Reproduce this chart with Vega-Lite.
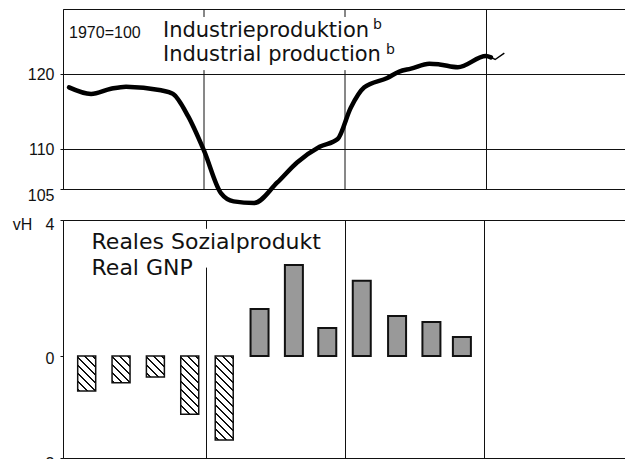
{
  "$schema": "https://vega.github.io/schema/vega-lite/v6.json",
  "background": "white",
  "padding": {"left": 5, "top": 8, "right": 0, "bottom": 0},
  "spacing": 31,
  "bounds": "flush",
  "config": {
    "view": {"stroke": "#111", "strokeWidth": 1},
    "axis": {
      "labelFont": "Liberation Sans", "labelFontSize": 16, "labelColor": "#111",
      "domainColor": "#111", "domainWidth": 1, "tickColor": "#111", "tickSize": 3, "tickWidth": 1,
      "gridColor": "#111", "gridOpacity": 1, "gridWidth": 1, "labelPadding": 6
    }
  },
  "datasets": {
    "production": [
      {"year": 1974.043, "value": 118.2},
      {"year": 1974.199, "value": 117.3},
      {"year": 1974.34, "value": 118.0},
      {"year": 1974.447, "value": 118.3},
      {"year": 1974.695, "value": 117.8},
      {"year": 1974.78, "value": 117.3},
      {"year": 1974.887, "value": 114.3},
      {"year": 1975.0, "value": 109.8},
      {"year": 1975.12, "value": 104.5},
      {"year": 1975.21, "value": 103.5},
      {"year": 1975.355, "value": 103.3},
      {"year": 1975.52, "value": 105.8},
      {"year": 1975.66, "value": 108.3},
      {"year": 1975.82, "value": 110.3},
      {"year": 1975.948, "value": 111.3},
      {"year": 1976.04, "value": 115.4},
      {"year": 1976.137, "value": 118.2},
      {"year": 1976.3, "value": 119.5},
      {"year": 1976.385, "value": 120.4},
      {"year": 1976.468, "value": 120.8},
      {"year": 1976.598, "value": 121.5},
      {"year": 1976.67, "value": 121.4},
      {"year": 1976.8, "value": 121.0},
      {"year": 1977.0, "value": 122.6},
      {"year": 1977.035, "value": 122.4}
    ],
    "hook": [
      {"year": 1977.035, "value": 122.4},
      {"year": 1977.065, "value": 122.1},
      {"year": 1977.13, "value": 123.0}
    ],
    "gnp": [
      {"q": 1, "year": 1974.135, "growth": -1.03},
      {"q": 2, "year": 1974.383, "growth": -0.79},
      {"q": 3, "year": 1974.631, "growth": -0.62},
      {"q": 4, "year": 1974.879, "growth": -1.71},
      {"q": 5, "year": 1975.128, "growth": -2.47},
      {"q": 6, "year": 1975.383, "growth": 1.38},
      {"q": 7, "year": 1975.631, "growth": 2.68},
      {"q": 8, "year": 1975.872, "growth": 0.82},
      {"q": 9, "year": 1976.121, "growth": 2.21},
      {"q": 10, "year": 1976.376, "growth": 1.18},
      {"q": 11, "year": 1976.624, "growth": 1.0},
      {"q": 12, "year": 1976.844, "growth": 0.56}
    ],
    "topgrid": [
      {"year": 1975, "value": 105, "value2": 120.6},
      {"year": 1976, "value": 105, "value2": 120.6},
      {"year": 1975, "value": 128.3, "value2": 129.5},
      {"year": 1976, "value": 128.3, "value2": 129.5}
    ],
    "bottomgrid": [
      {"year": 1975, "growth": -3, "growth2": 2.6},
      {"year": 1975, "growth": 3.74, "growth2": 4}
    ],
    "basetext": [
      {"label": "1970=100", "year": 1974.043, "value": 125.2}
    ],
    "toptitles": [
      {"label": "Industrieproduktion", "year": 1974.709, "value": 125.3},
      {"label": "Industrial production", "year": 1974.709, "value": 121.95}
    ],
    "supers": [
      {"label": "b", "year": 1976.199, "value": 126.5},
      {"label": "b", "year": 1976.29, "value": 122.9}
    ],
    "bottomtitles": [
      {"label": "Reales Sozialprodukt", "year": 1974.17, "growth": 3.147},
      {"label": "Real GNP", "year": 1974.17, "growth": 2.382}
    ]
  },
  "vconcat": [
    {
      "width": 564,
      "height": 180,
      "encoding": {
        "x": {"field": "year", "type": "quantitative", "title": null, "scale": {"domain": [1974, 1978], "nice": false},
              "axis": {"values": [1977], "grid": true, "labels": false, "ticks": false, "domain": false, "title": null}},
        "y": {"field": "value", "type": "quantitative", "title": null, "scale": {"type": "log", "domain": [105, 129.5], "nice": false},
              "axis": {"values": [105, 110, 120], "grid": true, "minExtent": 57, "maxExtent": 57, "title": null,
                       "labelOffset": {"condition": {"test": "datum.value == 105", "value": 6}, "value": 0}}}
      },
      "layer": [
        {
          "data": {"name": "topgrid"},
          "mark": {"type": "rule", "color": "#111", "strokeWidth": 1},
          "encoding": {"y2": {"field": "value2"}}
        },
        {
          "data": {"name": "production"},
          "mark": {"type": "line", "color": "#000", "strokeWidth": 4.5, "interpolate": "monotone", "strokeCap": "round", "strokeJoin": "round"}
        },
        {
          "data": {"name": "hook"},
          "mark": {"type": "line", "color": "#000", "strokeWidth": 1.5}
        },
        {
          "data": {"name": "basetext"},
          "mark": {"type": "text", "fill": "#111", "font": "Liberation Sans", "fontSize": 16, "align": "left", "baseline": "alphabetic"},
          "encoding": {"text": {"field": "label"}}
        },
        {
          "data": {"name": "toptitles"},
          "mark": {"type": "text", "fill": "#111", "font": "DejaVu Sans", "fontSize": 21, "align": "left", "baseline": "alphabetic"},
          "encoding": {"text": {"field": "label"}}
        },
        {
          "data": {"name": "supers"},
          "mark": {"type": "text", "fill": "#111", "font": "DejaVu Sans", "fontSize": 14, "align": "left", "baseline": "alphabetic"},
          "encoding": {"text": {"field": "label"}}
        }
      ]
    },
    {
      "width": 564,
      "height": 238,
      "encoding": {
        "x": {"field": "year", "type": "quantitative", "title": null, "scale": {"domain": [1974, 1978], "nice": false},
              "axis": {"values": [1976, 1977], "grid": true, "labels": false, "ticks": false, "domain": false, "title": null}},
        "y": {"field": "growth", "type": "quantitative", "title": null, "scale": {"domain": [-3, 4], "nice": false},
              "axis": {"values": [-3, 0, 4], "grid": false, "minExtent": 57, "maxExtent": 57, "title": null,
                       "labelExpr": "datum.value == 4 ? 'vH\u00a0\u00a0\u00a04' : datum.value == -3 ? '-\u00a0\u00a03' : datum.label",
                       "labelOffset": {"condition": [{"test": "datum.value == 4", "value": 4}, {"test": "datum.value == -3", "value": 5}], "value": 2}}}
      },
      "layer": [
        {
          "data": {"name": "bottomgrid"},
          "mark": {"type": "rule", "color": "#111", "strokeWidth": 1},
          "encoding": {"y2": {"field": "growth2"}}
        },
        {
          "data": {"name": "gnp"},
          "transform": [{"filter": "datum.growth > 0"}],
          "mark": {"type": "bar", "orient": "vertical", "size": 18, "fill": "#999999", "stroke": "#111", "strokeWidth": 2}
        },
        {
          "data": {"name": "gnp"},
          "transform": [{"filter": "datum.q == 1"}],
          "mark": {"type": "bar", "orient": "vertical", "size": 18, "stroke": "#111", "strokeWidth": 1.5,
            "fill": {"gradient": "linear", "x1": 1, "y1": 0, "x2": 0.3841, "y2": 1.1976, "stops": [
              {"offset": 0, "color": "#ffffff"},
              {"offset": 0.0377, "color": "#ffffff"}, {"offset": 0.0377, "color": "#111111"}, {"offset": 0.0755, "color": "#111111"}, {"offset": 0.0755, "color": "#ffffff"},
              {"offset": 0.1887, "color": "#ffffff"}, {"offset": 0.1887, "color": "#111111"}, {"offset": 0.2264, "color": "#111111"}, {"offset": 0.2264, "color": "#ffffff"},
              {"offset": 0.3396, "color": "#ffffff"}, {"offset": 0.3396, "color": "#111111"}, {"offset": 0.3774, "color": "#111111"}, {"offset": 0.3774, "color": "#ffffff"},
              {"offset": 0.4906, "color": "#ffffff"}, {"offset": 0.4906, "color": "#111111"}, {"offset": 0.5283, "color": "#111111"}, {"offset": 0.5283, "color": "#ffffff"},
              {"offset": 0.6415, "color": "#ffffff"}, {"offset": 0.6415, "color": "#111111"}, {"offset": 0.6792, "color": "#111111"}, {"offset": 0.6792, "color": "#ffffff"},
              {"offset": 0.7925, "color": "#ffffff"}, {"offset": 0.7925, "color": "#111111"}, {"offset": 0.8302, "color": "#111111"}, {"offset": 0.8302, "color": "#ffffff"},
              {"offset": 0.9434, "color": "#ffffff"}, {"offset": 0.9434, "color": "#111111"}, {"offset": 0.9811, "color": "#111111"}, {"offset": 0.9811, "color": "#ffffff"},
              {"offset": 1, "color": "#ffffff"}
            ]}}
        },
        {
          "data": {"name": "gnp"},
          "transform": [{"filter": "datum.q == 2"}],
          "mark": {"type": "bar", "orient": "vertical", "size": 18, "stroke": "#111", "strokeWidth": 1.5,
            "fill": {"gradient": "linear", "x1": 1, "y1": 0, "x2": 0.2308, "y2": 1.1538, "stops": [
              {"offset": 0, "color": "#ffffff"},
              {"offset": 0.0444, "color": "#ffffff"}, {"offset": 0.0444, "color": "#111111"}, {"offset": 0.0889, "color": "#111111"}, {"offset": 0.0889, "color": "#ffffff"},
              {"offset": 0.2222, "color": "#ffffff"}, {"offset": 0.2222, "color": "#111111"}, {"offset": 0.2667, "color": "#111111"}, {"offset": 0.2667, "color": "#ffffff"},
              {"offset": 0.4, "color": "#ffffff"}, {"offset": 0.4, "color": "#111111"}, {"offset": 0.4444, "color": "#111111"}, {"offset": 0.4444, "color": "#ffffff"},
              {"offset": 0.5778, "color": "#ffffff"}, {"offset": 0.5778, "color": "#111111"}, {"offset": 0.6222, "color": "#111111"}, {"offset": 0.6222, "color": "#ffffff"},
              {"offset": 0.7556, "color": "#ffffff"}, {"offset": 0.7556, "color": "#111111"}, {"offset": 0.8, "color": "#111111"}, {"offset": 0.8, "color": "#ffffff"},
              {"offset": 0.9333, "color": "#ffffff"}, {"offset": 0.9333, "color": "#111111"}, {"offset": 0.9778, "color": "#111111"}, {"offset": 0.9778, "color": "#ffffff"},
              {"offset": 1, "color": "#ffffff"}
            ]}}
        },
        {
          "data": {"name": "gnp"},
          "transform": [{"filter": "datum.q == 3"}],
          "mark": {"type": "bar", "orient": "vertical", "size": 18, "stroke": "#111", "strokeWidth": 1.5,
            "fill": {"gradient": "linear", "x1": 1, "y1": 0, "x2": 0.0824, "y2": 1.0706, "stops": [
              {"offset": 0, "color": "#ffffff"},
              {"offset": 0.0513, "color": "#ffffff"}, {"offset": 0.0513, "color": "#111111"}, {"offset": 0.1026, "color": "#111111"}, {"offset": 0.1026, "color": "#ffffff"},
              {"offset": 0.2564, "color": "#ffffff"}, {"offset": 0.2564, "color": "#111111"}, {"offset": 0.3077, "color": "#111111"}, {"offset": 0.3077, "color": "#ffffff"},
              {"offset": 0.4615, "color": "#ffffff"}, {"offset": 0.4615, "color": "#111111"}, {"offset": 0.5128, "color": "#111111"}, {"offset": 0.5128, "color": "#ffffff"},
              {"offset": 0.6667, "color": "#ffffff"}, {"offset": 0.6667, "color": "#111111"}, {"offset": 0.7179, "color": "#111111"}, {"offset": 0.7179, "color": "#ffffff"},
              {"offset": 0.8718, "color": "#ffffff"}, {"offset": 0.8718, "color": "#111111"}, {"offset": 0.9231, "color": "#111111"}, {"offset": 0.9231, "color": "#ffffff"},
              {"offset": 1, "color": "#ffffff"}
            ]}}
        },
        {
          "data": {"name": "gnp"},
          "transform": [{"filter": "datum.q == 4"}],
          "mark": {"type": "bar", "orient": "vertical", "size": 18, "stroke": "#111", "strokeWidth": 1.5,
            "fill": {"gradient": "linear", "x1": 1, "y1": 0, "x2": 0.6291, "y2": 1.1952, "stops": [
              {"offset": 0, "color": "#ffffff"},
              {"offset": 0.0263, "color": "#ffffff"}, {"offset": 0.0263, "color": "#111111"}, {"offset": 0.0526, "color": "#111111"}, {"offset": 0.0526, "color": "#ffffff"},
              {"offset": 0.1316, "color": "#ffffff"}, {"offset": 0.1316, "color": "#111111"}, {"offset": 0.1579, "color": "#111111"}, {"offset": 0.1579, "color": "#ffffff"},
              {"offset": 0.2368, "color": "#ffffff"}, {"offset": 0.2368, "color": "#111111"}, {"offset": 0.2632, "color": "#111111"}, {"offset": 0.2632, "color": "#ffffff"},
              {"offset": 0.3421, "color": "#ffffff"}, {"offset": 0.3421, "color": "#111111"}, {"offset": 0.3684, "color": "#111111"}, {"offset": 0.3684, "color": "#ffffff"},
              {"offset": 0.4474, "color": "#ffffff"}, {"offset": 0.4474, "color": "#111111"}, {"offset": 0.4737, "color": "#111111"}, {"offset": 0.4737, "color": "#ffffff"},
              {"offset": 0.5526, "color": "#ffffff"}, {"offset": 0.5526, "color": "#111111"}, {"offset": 0.5789, "color": "#111111"}, {"offset": 0.5789, "color": "#ffffff"},
              {"offset": 0.6579, "color": "#ffffff"}, {"offset": 0.6579, "color": "#111111"}, {"offset": 0.6842, "color": "#111111"}, {"offset": 0.6842, "color": "#ffffff"},
              {"offset": 0.7632, "color": "#ffffff"}, {"offset": 0.7632, "color": "#111111"}, {"offset": 0.7895, "color": "#111111"}, {"offset": 0.7895, "color": "#ffffff"},
              {"offset": 0.8684, "color": "#ffffff"}, {"offset": 0.8684, "color": "#111111"}, {"offset": 0.8947, "color": "#111111"}, {"offset": 0.8947, "color": "#ffffff"},
              {"offset": 1, "color": "#ffffff"}
            ]}}
        },
        {
          "data": {"name": "gnp"},
          "transform": [{"filter": "datum.q == 5"}],
          "mark": {"type": "bar", "orient": "vertical", "size": 18, "stroke": "#111", "strokeWidth": 1.5,
            "fill": {"gradient": "linear", "x1": 1, "y1": 0, "x2": 0.7512, "y2": 1.161, "stops": [
              {"offset": 0, "color": "#ffffff"},
              {"offset": 0.0196, "color": "#ffffff"}, {"offset": 0.0196, "color": "#111111"}, {"offset": 0.0392, "color": "#111111"}, {"offset": 0.0392, "color": "#ffffff"},
              {"offset": 0.098, "color": "#ffffff"}, {"offset": 0.098, "color": "#111111"}, {"offset": 0.1176, "color": "#111111"}, {"offset": 0.1176, "color": "#ffffff"},
              {"offset": 0.1765, "color": "#ffffff"}, {"offset": 0.1765, "color": "#111111"}, {"offset": 0.1961, "color": "#111111"}, {"offset": 0.1961, "color": "#ffffff"},
              {"offset": 0.2549, "color": "#ffffff"}, {"offset": 0.2549, "color": "#111111"}, {"offset": 0.2745, "color": "#111111"}, {"offset": 0.2745, "color": "#ffffff"},
              {"offset": 0.3333, "color": "#ffffff"}, {"offset": 0.3333, "color": "#111111"}, {"offset": 0.3529, "color": "#111111"}, {"offset": 0.3529, "color": "#ffffff"},
              {"offset": 0.4118, "color": "#ffffff"}, {"offset": 0.4118, "color": "#111111"}, {"offset": 0.4314, "color": "#111111"}, {"offset": 0.4314, "color": "#ffffff"},
              {"offset": 0.4902, "color": "#ffffff"}, {"offset": 0.4902, "color": "#111111"}, {"offset": 0.5098, "color": "#111111"}, {"offset": 0.5098, "color": "#ffffff"},
              {"offset": 0.5686, "color": "#ffffff"}, {"offset": 0.5686, "color": "#111111"}, {"offset": 0.5882, "color": "#111111"}, {"offset": 0.5882, "color": "#ffffff"},
              {"offset": 0.6471, "color": "#ffffff"}, {"offset": 0.6471, "color": "#111111"}, {"offset": 0.6667, "color": "#111111"}, {"offset": 0.6667, "color": "#ffffff"},
              {"offset": 0.7255, "color": "#ffffff"}, {"offset": 0.7255, "color": "#111111"}, {"offset": 0.7451, "color": "#111111"}, {"offset": 0.7451, "color": "#ffffff"},
              {"offset": 0.8039, "color": "#ffffff"}, {"offset": 0.8039, "color": "#111111"}, {"offset": 0.8235, "color": "#111111"}, {"offset": 0.8235, "color": "#ffffff"},
              {"offset": 0.8824, "color": "#ffffff"}, {"offset": 0.8824, "color": "#111111"}, {"offset": 0.902, "color": "#111111"}, {"offset": 0.902, "color": "#ffffff"},
              {"offset": 0.9608, "color": "#ffffff"}, {"offset": 0.9608, "color": "#111111"}, {"offset": 0.9804, "color": "#111111"}, {"offset": 0.9804, "color": "#ffffff"},
              {"offset": 1, "color": "#ffffff"}
            ]}}
        },
        {
          "data": {"values": [{}]},
          "mark": {"type": "rule", "color": "#111", "strokeWidth": 2},
          "encoding": {"x": {"value": 0}, "x2": {"value": 564}, "y": {"datum": 0}}
        },
        {
          "data": {"name": "bottomtitles"},
          "mark": {"type": "text", "fill": "#111", "font": "DejaVu Sans", "fontSize": 22, "align": "left", "baseline": "alphabetic"},
          "encoding": {"text": {"field": "label"}}
        }
      ]
    }
  ]
}
